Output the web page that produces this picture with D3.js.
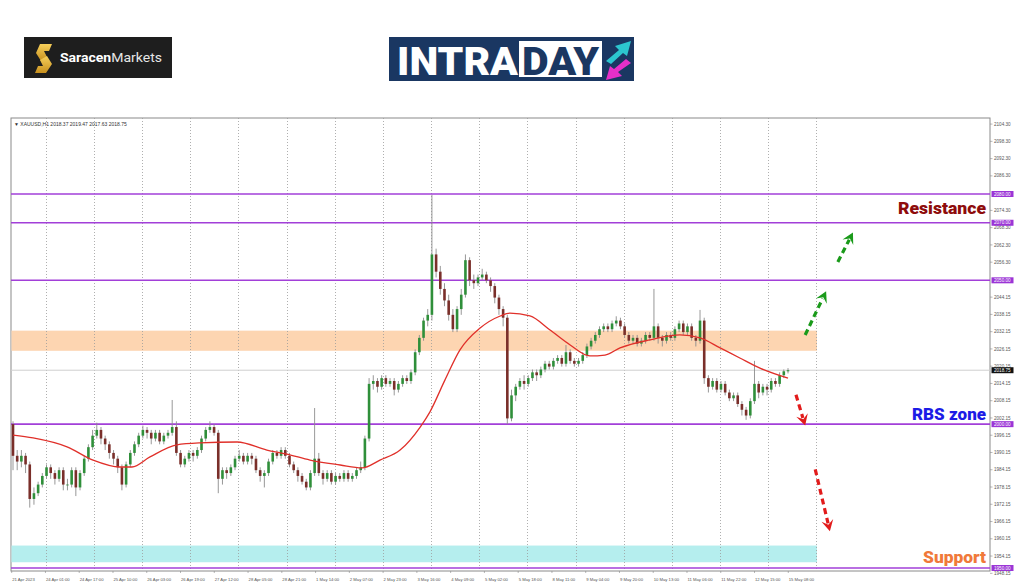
<!DOCTYPE html>
<html>
<head>
<meta charset="utf-8">
<script src="https://cdn.jsdelivr.net/npm/d3@7"></script>
<style>
  body { margin: 0; background: #fff; }
  svg { display: block; }
</style>
</head>
<body>
<div id="chart"></div>
<script>
// ---- data ----
var firstOpen = 2000;
var closes = [
  1989, 1987, 1989, 1986, 1974, 1976, 1979, 1982, 1985, 1983,
  1981, 1984, 1979, 1979, 1984, 1978, 1983, 1988, 1992, 1996,
  1998, 1995, 1993, 1990, 1988, 1985, 1979, 1986, 1990, 1993,
  1996, 1998, 1997, 1995, 1997, 1994, 1996, 1997, 1999, 1990,
  1986, 1988, 1990, 1989, 1991, 1995, 1998, 1999, 1997, 1981,
  1984, 1983, 1985, 1988, 1989, 1987, 1989, 1988, 1984, 1982,
  1983, 1987, 1990, 1989, 1991, 1989, 1986, 1984, 1982, 1980,
  1978, 1983, 1988, 1983, 1981, 1983, 1980, 1982, 1981, 1983,
  1981, 1982, 1984, 1985, 1995, 2014, 2015, 2013, 2016, 2014,
  2015, 2012, 2014, 2016, 2015, 2018, 2025, 2030, 2036, 2038,
  2059, 2053, 2047, 2043, 2038, 2033, 2040, 2045, 2057, 2050,
  2049, 2051, 2052, 2050, 2048, 2044, 2040, 2037, 2002, 2010,
  2013, 2015, 2014, 2016, 2018, 2017, 2019, 2021, 2020, 2022,
  2023, 2021, 2025, 2022, 2021, 2022, 2024, 2027, 2029, 2031,
  2033, 2034, 2033, 2035, 2036, 2034, 2031, 2029, 2030, 2028,
  2029, 2031, 2030, 2034, 2030, 2029, 2031, 2030, 2033, 2035,
  2032, 2034, 2030, 2029, 2036, 2016, 2013, 2015, 2012, 2014,
  2011, 2009, 2010, 2007, 2005, 2003, 2008, 2014, 2011, 2013,
  2012, 2015, 2014, 2017, 2018.37, 2018.75
];
var highs = [
  2001, 1991, 1991, 1990, 1987, 1978, 1980, 1983, 1986, 1986,
  1984, 1985, 1985, 1981, 1985, 1985, 1984, 1989, 1993, 1998,
  2000.5, 1999, 1996, 1994, 1991, 1989, 1986, 1987, 1991, 1994,
  1997, 1999.5, 1999, 1998, 1998, 1998, 1997, 1998, 2008.4, 2001,
  1991, 1989, 1991, 1991, 1992, 1996, 1999, 2001, 2000, 1998,
  1985, 1985, 1986, 1989, 1991, 1990, 1990, 1990, 1989, 1985,
  1984, 1988, 1991, 1991, 1992, 1992, 1990, 1987, 1985, 1983,
  1981, 1984, 2005.6, 1990, 1984, 1984, 1984, 1983, 1983, 1984,
  1984, 1983, 1985, 1987, 1996, 2016, 2017, 2016, 2017, 2017,
  2016, 2016, 2015, 2017, 2017, 2019, 2026, 2031, 2037, 2040,
  2079.7, 2061, 2055, 2049, 2045, 2040, 2041, 2047, 2059, 2058,
  2052, 2052, 2054, 2053, 2051, 2049, 2045, 2041, 2038, 2012,
  2014, 2016, 2017, 2017, 2019, 2019, 2020, 2022, 2022, 2023,
  2024, 2024, 2027.5, 2026, 2023, 2023, 2025, 2028, 2030, 2032,
  2034, 2035, 2035, 2036, 2037.5, 2037, 2035, 2032, 2031, 2031,
  2030, 2032, 2032, 2047, 2035, 2031, 2032, 2032, 2034, 2036,
  2036, 2035, 2035, 2031, 2039.7, 2037, 2017, 2016, 2016, 2015,
  2015, 2012, 2011, 2011, 2008, 2006, 2009, 2022, 2015, 2014,
  2014, 2016, 2016, 2018, 2019, 2019.47
];
var lows = [
  1984, 1984, 1985, 1983, 1971, 1972, 1975, 1978, 1981, 1981,
  1979, 1980, 1977, 1977, 1978, 1975, 1977, 1982, 1987, 1991,
  1995, 1993, 1991, 1988, 1986, 1983, 1977, 1978, 1985, 1989,
  1992, 1995, 1995, 1993, 1994, 1993, 1993, 1995, 1996, 1989,
  1985, 1985, 1987, 1987, 1988, 1990, 1994, 1997, 1996, 1976,
  1979, 1981, 1982, 1984, 1987, 1986, 1986, 1986, 1983, 1980,
  1978, 1982, 1986, 1988, 1988, 1988, 1985, 1983, 1980, 1979,
  1977, 1977, 1982, 1982, 1979, 1980, 1979, 1979, 1980, 1980,
  1980, 1980, 1981, 1983, 1984, 1994, 2012, 2011, 2012, 2013,
  2013, 2010, 2011, 2013, 2014, 2014, 2017, 2024, 2029, 2034,
  2036, 2051, 2045, 2041, 2036, 2032, 2032, 2038, 2044, 2048,
  2047, 2048, 2050, 2049, 2046, 2042, 2038, 2034, 2000, 2001,
  2008, 2012, 2012, 2013, 2015, 2015, 2016, 2018, 2019, 2019,
  2021, 2020, 2020, 2021, 2020, 2020, 2021, 2023, 2026, 2028,
  2030, 2032, 2032, 2032, 2034, 2033, 2030, 2028, 2028, 2027,
  2027, 2028, 2029, 2029, 2028, 2027, 2028, 2029, 2029, 2032,
  2031, 2031, 2029, 2027, 2028, 2014, 2011, 2012, 2011, 2011,
  2010, 2008, 2008, 2006, 2003, 2001.5, 2002, 2007, 2009, 2010,
  2010, 2011, 2013, 2013, 2016, 2017.63
];

// moving average (red line), read at a few bar positions
var maIdx = [0, 4.8, 12.9, 19.1, 25.5, 28.4, 32.7, 39.1, 44.6, 53.5, 60.6, 65.4, 70.9, 78.1, 83.3,
             87.6, 92.4, 97.2, 99.5, 103.1, 106.7, 111.5, 116.3, 118.6, 123.4, 128.2, 133, 137.7,
             141.3, 144.9, 152.1, 159.2, 164, 168.8, 173.5, 178.3, 185];
var maVal = [1996.2, 1995.2, 1992.1, 1987.5, 1985.1, 1985.1, 1988.6, 1992.8, 1993.5, 1993.8, 1991.0, 1989.6, 1987.5, 1985.8, 1984.8,
             1987.5, 1991.0, 1999.0, 2004.2, 2015.3, 2025.8, 2033.4, 2037.6, 2038.6, 2037.6, 2032.7, 2027.5, 2023.7,
             2024.0, 2026.5, 2029.3, 2031.0, 2030.0, 2026.5, 2023.0, 2019.5, 2016.0];

var levels = [2080, 2070, 2050, 2000, 1950];
var resistZone = [2025.5, 2032.5];
var supportZone = [1952, 1957.8];
var lastPrice = 2018.75;

var priceTicks = [2104.30, 2098.30, 2092.30, 2086.30, 2074.30, 2068.30, 2062.30, 2056.30, 2044.15, 2038.15,
                  2032.15, 2026.15, 2020.15, 2014.15, 2008.15, 2002.15, 1996.15, 1990.15, 1984.15, 1978.15,
                  1972.15, 1966.15, 1960.15, 1954.15, 1948.15];
var timeLabels = ["21 Apr 2023", "24 Apr 01:00", "24 Apr 17:00", "25 Apr 10:00", "26 Apr 03:00", "26 Apr 19:00",
                  "27 Apr 12:00", "28 Apr 05:00", "28 Apr 21:00", "1 May 14:00", "2 May 07:00", "2 May 23:00",
                  "3 May 16:00", "4 May 09:00", "5 May 02:00", "5 May 18:00", "8 May 11:00", "9 May 04:00",
                  "9 May 20:00", "10 May 13:00", "11 May 06:00", "11 May 22:00", "12 May 15:00", "15 May 08:00"];
var labelStart = -0.31, labelStep = 8.06;   // bars between time labels
var gridStart = 7.8, gridStep = 11.5, gridCount = 17;

// arrows: [fromBar, fromPrice, toBar, toPrice]
var upArrows = [[189.1, 2031, 194.1, 2046.2], [196.9, 2056.4, 200.5, 2066.6]];
var downArrows = [[186.9, 2010.2, 189.1, 1999.5], [191.5, 1984.3, 195, 1962.8]];

// ---- drawing ----
var W = 1024, H = 587;
var plot = {left: 11, right: 990, top: 118, bottom: 571};
var axisFont = "Liberation Sans, Arial, sans-serif";

var svg = d3.select("#chart").append("svg").attr("width", W).attr("height", H);

var x = d3.scaleLinear().domain([0, closes.length - 1]).range([13, 788]);
var y = d3.scaleLinear().domain([1950, 2080]).range([568, 194]);

var bars = closes.map(function(c, i) {
  return {i: i, o: i === 0 ? firstOpen : closes[i - 1], c: c, h: highs[i], l: lows[i]};
});

// logos
var logo1 = svg.append("g");
logo1.append("rect").attr("x", 24).attr("y", 37).attr("width", 148).attr("height", 41).attr("fill", "#1e1e1e");
var gold = svg.append("defs").append("linearGradient").attr("id", "gold").attr("x1", 0).attr("y1", 0).attr("x2", 0).attr("y2", 1);
gold.append("stop").attr("offset", "0%").attr("stop-color", "#f6cf5a");
gold.append("stop").attr("offset", "100%").attr("stop-color", "#c8901e");
// stylised S: two ribbons
logo1.append("path").attr("d", "M40,44 L52,44 L49,51 L44,51 L47,57 L41,61 L36,53 Z").attr("fill", "url(#gold)");
logo1.append("path").attr("d", "M47,56 L52,64 L46,73 L35,73 L38,66 L43,66 L40,60 Z").attr("fill", "url(#gold)");
var lt = logo1.append("text").attr("x", 60).attr("y", 62).attr("font-family", "Roboto, sans-serif").attr("font-size", 13.5)
  .attr("fill", "#fff").attr("textLength", 102).attr("lengthAdjust", "spacingAndGlyphs");
lt.append("tspan").attr("font-weight", 700).text("Saracen");
lt.append("tspan").attr("font-weight", 400).attr("fill", "#e6e6e6").text("Markets");

var logo2 = svg.append("g");
logo2.append("rect").attr("x", 389).attr("y", 37).attr("width", 245).attr("height", 44).attr("fill", "#1a3762");
logo2.append("text").attr("x", 397).attr("y", 75).attr("font-family", "Roboto, sans-serif").attr("font-weight", 900)
  .attr("font-size", 38).attr("fill", "#fff").attr("textLength", 121).attr("lengthAdjust", "spacingAndGlyphs").text("INTRA");
logo2.append("rect").attr("x", 519).attr("y", 41).attr("width", 83).attr("height", 36).attr("fill", "#fff");
logo2.append("text").attr("x", 522).attr("y", 75).attr("font-family", "Roboto, sans-serif").attr("font-weight", 900)
  .attr("font-size", 38).attr("fill", "#1a3762").attr("textLength", 77).attr("lengthAdjust", "spacingAndGlyphs").text("DAY");
logo2.append("path").attr("d", "M606,61 L619,50 L615,46 L631,41 L627,56 L623,53 L611,64 Z").attr("fill", "#2cc6cf");
logo2.append("path").attr("d", "M631,63 L618,72 L622,76 L606,80 L610,66 L614,69 L626,59 Z").attr("fill", "#e62fc8");

// frame
svg.append("rect").attr("x", plot.left).attr("y", plot.top)
  .attr("width", plot.right - plot.left).attr("height", plot.bottom - plot.top)
  .attr("fill", "none").attr("stroke", "#8a8a8a").attr("stroke-width", 1);

// zones
var zoneRight = x(gridStart + gridStep * (gridCount - 1));
[[resistZone, "#fdd5b1"], [supportZone, "#b5eeee"]].forEach(function(z) {
  svg.append("rect").attr("x", plot.left + 0.5).attr("y", y(z[0][1]))
    .attr("width", zoneRight - plot.left).attr("height", y(z[0][0]) - y(z[0][1]))
    .attr("fill", z[1]);
});

// vertical grid
svg.append("g").selectAll("line").data(d3.range(gridCount)).enter().append("line")
  .attr("x1", function(j) { return Math.round(x(gridStart + gridStep * j)) + 0.5; })
  .attr("x2", function(j) { return Math.round(x(gridStart + gridStep * j)) + 0.5; })
  .attr("y1", plot.top).attr("y2", plot.bottom)
  .attr("stroke", "#9a9a9a").attr("stroke-width", 0.8).attr("stroke-dasharray", "1,2");

// last price line
svg.append("line").attr("x1", plot.left).attr("x2", plot.right)
  .attr("y1", y(lastPrice)).attr("y2", y(lastPrice)).attr("stroke", "#cfcfcf").attr("stroke-width", 1);

// levels
svg.append("g").selectAll("line").data(levels).enter().append("line")
  .attr("x1", plot.left).attr("x2", plot.right)
  .attr("y1", function(d) { return y(d); }).attr("y2", function(d) { return y(d); })
  .attr("stroke", "#a23fd8").attr("stroke-width", 1.6);

// candles
var cw = 2.6;
var cg = svg.append("g");
cg.selectAll("line").data(bars).enter().append("line")
  .attr("x1", function(d) { return x(d.i); }).attr("x2", function(d) { return x(d.i); })
  .attr("y1", function(d) { return y(d.h); }).attr("y2", function(d) { return y(d.l); })
  .attr("stroke", "#8c8c8c").attr("stroke-width", 0.9);
cg.selectAll("rect").data(bars).enter().append("rect")
  .attr("x", function(d) { return x(d.i) - cw / 2; })
  .attr("y", function(d) { return y(Math.max(d.o, d.c)); })
  .attr("width", cw)
  .attr("height", function(d) { return Math.max(0.8, Math.abs(y(d.o) - y(d.c))); })
  .attr("fill", function(d) { return d.c >= d.o ? "#2f8f3a" : "#7a2f2a"; });

// moving average
var ma = maIdx.map(function(d, k) { return [d, maVal[k]]; });
svg.append("path").datum(ma)
  .attr("d", d3.line().x(function(d) { return x(d[0]); }).y(function(d) { return y(d[1]); }).curve(d3.curveMonotoneX))
  .attr("fill", "none").attr("stroke", "#e0302a").attr("stroke-width", 1.3);

// dashed arrows
function arrow(a, color) {
  var x1 = x(a[0]), y1 = y(a[1]), x2 = x(a[2]), y2 = y(a[3]);
  var ang = Math.atan2(y2 - y1, x2 - x1);
  var hl = 11, hw = 6;
  var bx = x2 - Math.cos(ang) * hl, by = y2 - Math.sin(ang) * hl;
  svg.append("line").attr("x1", x1).attr("y1", y1).attr("x2", bx + Math.cos(ang) * 3).attr("y2", by + Math.sin(ang) * 3)
    .attr("stroke", color).attr("stroke-width", 3.2).attr("stroke-dasharray", "6,4");
  var px = -Math.sin(ang), py = Math.cos(ang);
  var nx = x2 - Math.cos(ang) * hl * 0.6, ny = y2 - Math.sin(ang) * hl * 0.6;
  svg.append("path").attr("d",
    "M" + x2 + "," + y2 +
    "L" + (bx + px * hw) + "," + (by + py * hw) +
    "L" + nx + "," + ny +
    "L" + (bx - px * hw) + "," + (by - py * hw) + "Z")
    .attr("fill", color);
}
upArrows.forEach(function(a) { arrow(a, "#1a9a1a"); });
downArrows.forEach(function(a) { arrow(a, "#e21b1b"); });

// price axis
var ax = svg.append("g").attr("font-family", axisFont).attr("font-size", 4.6).attr("fill", "#555");
ax.selectAll("line").data(priceTicks).enter().append("line")
  .attr("x1", plot.right).attr("x2", plot.right + 2.5)
  .attr("y1", function(d) { return y(d); }).attr("y2", function(d) { return y(d); })
  .attr("stroke", "#888").attr("stroke-width", 0.6);
ax.selectAll("text").data(priceTicks).enter().append("text")
  .attr("x", plot.right + 4).attr("y", function(d) { return y(d) + 1.6; })
  .text(function(d) { return d.toFixed(2); });

function priceBox(v, fill) {
  var g = svg.append("g");
  g.append("rect").attr("x", plot.right + 1.5).attr("y", y(v) - 3).attr("width", 22).attr("height", 6).attr("fill", fill);
  g.append("text").attr("x", plot.right + 4).attr("y", y(v) + 1.6)
    .attr("font-family", axisFont).attr("font-size", 4.6).attr("fill", "#fff")
    .text(v.toFixed(2));
}
levels.forEach(function(v) { priceBox(v, "#9b35d6"); });
priceBox(lastPrice, "#111");

// time axis
function labelPos(k) { return x(labelStart + labelStep * k); }
var tx = svg.append("g").attr("font-family", axisFont).attr("font-size", 4.2).attr("fill", "#555");
tx.selectAll("line").data(timeLabels).enter().append("line")
  .attr("x1", function(d, k) { return labelPos(k); })
  .attr("x2", function(d, k) { return labelPos(k); })
  .attr("y1", plot.bottom).attr("y2", plot.bottom + 2)
  .attr("stroke", "#888").attr("stroke-width", 0.6);
tx.selectAll("text").data(timeLabels).enter().append("text")
  .attr("x", function(d, k) { return labelPos(k) + 0.5; })
  .attr("y", 580.5)
  .text(function(d) { return d; });

// header
svg.append("text").attr("x", 14).attr("y", 126)
  .attr("font-family", axisFont).attr("font-size", 5).attr("fill", "#333")
  .text("\u25BC XAUUSD,H1  2018.37 2019.47 2017.63 2018.75");

// zone labels
function label(txt, yy, color, len) {
  svg.append("text").attr("x", 986).attr("y", yy).attr("text-anchor", "end")
    .attr("font-family", "Roboto, sans-serif").attr("font-weight", 900).attr("font-size", 17)
    .attr("fill", color).attr("textLength", len).attr("lengthAdjust", "spacingAndGlyphs").text(txt);
}
label("Resistance", 214, "#8e0c0c", 88);
label("RBS zone", 420, "#1c1ce6", 74);
label("Support", 563, "#f0793a", 63);
</script>
</body>
</html>
